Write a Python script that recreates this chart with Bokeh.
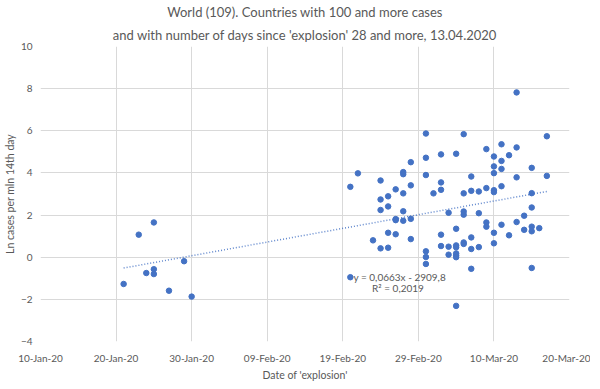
from datetime import datetime, timedelta
import numpy as np
from bokeh.plotting import figure
from bokeh.models import (ColumnDataSource, Range1d, FixedTicker, DatetimeTickFormatter,
                          Title, Label)
from bokeh.embed import file_html
from bokeh.resources import INLINE

# ---- data ----
explosion_dates = [
    "2020-01-21", "2020-01-23", "2020-01-24", "2020-01-25", "2020-01-25", "2020-01-25",
    "2020-01-27", "2020-01-29", "2020-01-30",
    "2020-02-20", "2020-02-20", "2020-02-21", "2020-02-23",
    "2020-02-24", "2020-02-24", "2020-02-24", "2020-02-24",
    "2020-02-25", "2020-02-25", "2020-02-25", "2020-02-25",
    "2020-02-26", "2020-02-26", "2020-02-26", "2020-02-26",
    "2020-02-27", "2020-02-27", "2020-02-27", "2020-02-27", "2020-02-27",
    "2020-02-28", "2020-02-28", "2020-02-28", "2020-02-28",
    "2020-03-01", "2020-03-01", "2020-03-01", "2020-03-01", "2020-03-01", "2020-03-01",
    "2020-03-02",
    "2020-03-03", "2020-03-03", "2020-03-03", "2020-03-03", "2020-03-03",
    "2020-03-04", "2020-03-04", "2020-03-04",
    "2020-03-05", "2020-03-05", "2020-03-05", "2020-03-05", "2020-03-05", "2020-03-05",
    "2020-03-05", "2020-03-05",
    "2020-03-06", "2020-03-06", "2020-03-06", "2020-03-06", "2020-03-06", "2020-03-06",
    "2020-03-07", "2020-03-07", "2020-03-07", "2020-03-07", "2020-03-07",
    "2020-03-08", "2020-03-08", "2020-03-08",
    "2020-03-09", "2020-03-09", "2020-03-09", "2020-03-09",
    "2020-03-10", "2020-03-10", "2020-03-10", "2020-03-10", "2020-03-10", "2020-03-10",
    "2020-03-10",
    "2020-03-11", "2020-03-11", "2020-03-11", "2020-03-11", "2020-03-11",
    "2020-03-12", "2020-03-12",
    "2020-03-13", "2020-03-13", "2020-03-13", "2020-03-13",
    "2020-03-14", "2020-03-14",
    "2020-03-15", "2020-03-15", "2020-03-15", "2020-03-15", "2020-03-15", "2020-03-15",
    "2020-03-16",
    "2020-03-17", "2020-03-17",
]
ln_cases = [
    -1.27, 1.07, -0.75, 1.65, -0.57, -0.80,
    -1.59, -0.19, -1.87,
    3.34, -0.95, 3.98, 0.80,
    3.64, 2.74, 2.24, 0.42,
    2.89, 2.41, 1.16, 0.45,
    3.22, 1.81, 1.76, 1.09,
    4.04, 3.94, 3.03, 2.18, 1.73,
    4.51, 3.41, 1.82, 0.86,
    5.87, 4.72, 3.90, 0.28, 0.01, -0.32,
    3.03,
    4.88, 3.55, 3.20, 1.07, 0.53,
    2.11, 0.50, 0.12,
    4.91, 1.35, 0.56, 0.47, 0.18, 0.09, 0.00, -2.31,
    5.84, 3.03, 2.17, 2.02, 0.70, 0.63,
    3.83, 3.15, 0.94, 0.39, -0.55,
    3.12, 2.09, 0.48,
    5.13, 3.28, 1.65, 1.45,
    4.78, 4.31, 3.99, 3.18, 3.09, 1.16, 0.66,
    5.36, 4.57, 4.19, 3.37, 1.54,
    4.84, 1.04,
    7.82, 5.21, 3.79, 1.67,
    1.97, 1.30,
    4.24, 3.04, 2.36, 1.45, 1.23, -0.51,
    1.38,
    5.74, 3.86,
]
x_tick_dates = ["2020-01-10", "2020-01-20", "2020-01-30", "2020-02-09",
                "2020-02-19", "2020-02-29", "2020-03-10", "2020-03-20"]
y_ticks = [-4, -2, 0, 2, 4, 6, 8, 10]

title_line1 = "World (109). Countries with 100 and more cases"
title_line2 = "and with number of days since 'explosion' 28 and more, 13.04.2020"
equation_text = "y = 0,0663x - 2909,8"
r2_text = "R\u00b2 = 0,2019"

# ---- build ----
dts = [datetime.strptime(d, "%Y-%m-%d") for d in explosion_dates]
src = ColumnDataSource(dict(x=dts, y=ln_cases))

def to_ms(dt):
    return (dt - datetime(1970, 1, 1)).total_seconds() * 1000.0

tick_ms = [to_ms(datetime.strptime(d, "%Y-%m-%d")) for d in x_tick_dates]

FONT = "Lato"
GREY = "#595959"
BLUE = "#4472C4"

p = figure(frame_width=529, frame_height=295, x_axis_type="datetime", title=None,
           output_backend="svg", toolbar_location=None,
           x_range=Range1d(tick_ms[0], tick_ms[-1]),
           y_range=Range1d(y_ticks[0], y_ticks[-1]),
           min_border_left=34, min_border_right=21,
           min_border_top=38, min_border_bottom=36)
p.outline_line_color = None
p.background_fill_color = "white"
p.border_fill_color = "white"

t2 = Title(text=title_line2, align="center", text_font=FONT, text_font_size="13px",
           text_font_style="normal", text_color=GREY, standoff=8)
t1 = Title(text=title_line1, align="center", text_font=FONT, text_font_size="13px",
           text_font_style="normal", text_color=GREY, standoff=2)
p.add_layout(t2, "above")
p.add_layout(t1, "above")

# axes
p.xaxis.ticker = FixedTicker(ticks=tick_ms)
fmt = "%d-%b-%y"
p.xaxis.formatter = DatetimeTickFormatter(days=fmt, months=fmt, years=fmt, hours=fmt,
                                          minutes=fmt, seconds=fmt, milliseconds=fmt,
                                          minsec=fmt, hourmin=fmt)
p.yaxis.ticker = FixedTicker(ticks=y_ticks)
for ax in (p.xaxis, p.yaxis):
    ax.axis_line_color = None
    ax.major_tick_line_color = None
    ax.minor_tick_line_color = None
    ax.major_tick_out = 0
    ax.major_tick_in = 0
    ax.minor_tick_out = 0
    ax.minor_tick_in = 0
    ax.major_label_text_font = FONT
    ax.major_label_text_font_size = "10px"
    ax.major_label_text_color = GREY
    ax.axis_label_text_font = FONT
    ax.axis_label_text_font_size = "10.5px"
    ax.axis_label_text_font_style = "normal"
    ax.axis_label_text_color = GREY
p.xaxis.axis_label = "Date of 'explosion'"
p.yaxis.axis_label = "Ln cases per mln 14th day"
p.xaxis.major_label_standoff = 10
p.xaxis.axis_label_standoff = 2
p.yaxis.major_label_standoff = 8
p.yaxis.axis_label_standoff = 2

p.xgrid.grid_line_color = "#D9D9D9"
p.ygrid.grid_line_color = "#D9D9D9"
p.xgrid.grid_line_width = 1
p.ygrid.grid_line_width = 1

# scatter
p.scatter("x", "y", source=src, size=5.5, color=BLUE, line_color=BLUE)

# linear trendline (least squares on the data)
xd = np.array([to_ms(d) for d in dts]) / 86400000.0
coef = np.polyfit(xd, np.array(ln_cases), 1)
x0, x1 = xd.min(), xd.max()
p.line([x0 * 86400000.0, x1 * 86400000.0],
       [coef[0] * x0 + coef[1], coef[0] * x1 + coef[1]],
       line_color=BLUE, line_width=1.5, line_dash="1 2", line_alpha=0.85)

# trendline label
lx = to_ms(datetime(2020, 2, 20, 10))
p.add_layout(Label(x=lx, y=-0.94, text=equation_text, text_font=FONT,
                   text_font_size="10px", text_color=GREY, text_baseline="middle",
                   text_align="left"))
lx2 = to_ms(datetime(2020, 2, 22, 21))
p.add_layout(Label(x=lx2, y=-1.47, text=r2_text, text_font=FONT,
                   text_font_size="10px", text_color=GREY, text_baseline="middle",
                   text_align="left"))

open("out.html", "w").write(file_html(p, INLINE))
